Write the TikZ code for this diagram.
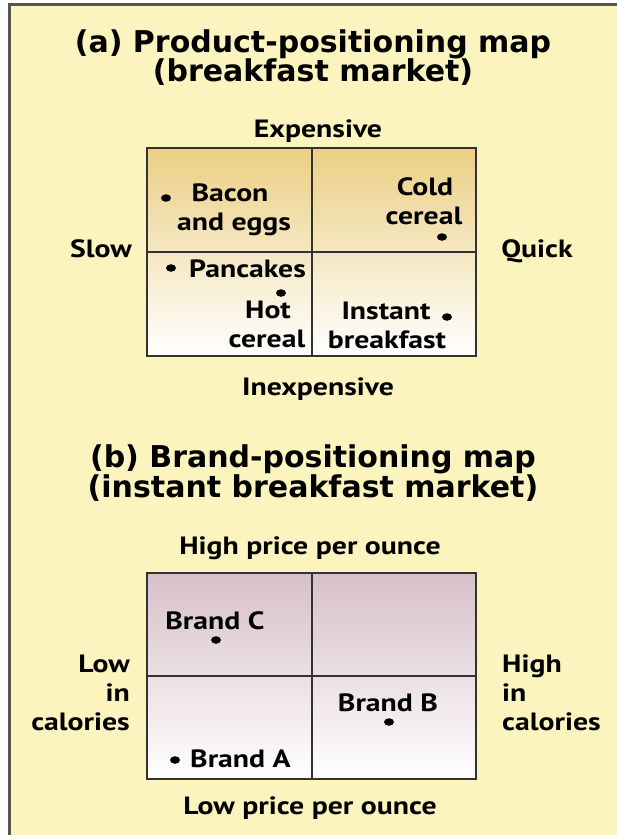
\documentclass[tikz,border=0pt]{standalone}
\usepackage{fontspec}
\usetikzlibrary{shapes.geometric}
\newfontfamily\bodyf[FakeStretch=1.19]{PT Sans}
\newfontfamily\titlef{DejaVu Sans}
\definecolor{bgyellow}{RGB}{251,244,190}
\definecolor{bordergray}{RGB}{85,85,85}
\definecolor{tanA}{RGB}{235,207,132}
\definecolor{mauveB}{RGB}{215,192,201}
\definecolor{gridgray}{RGB}{50,50,50}
\tikzset{
  lbl/.style={inner sep=0pt, anchor=base, font=\bodyf\bfseries\fontsize{25}{29}\selectfont},
  lblL/.style={lbl, anchor=base west},
  lblR/.style={lbl, anchor=base east},
  ttl/.style={inner sep=0pt, anchor=base, font=\titlef\bfseries\fontsize{30}{36}\selectfont},
  dotnode/.style={ellipse, fill=black, inner sep=0pt, minimum width=10pt, minimum height=7.5pt},
  gridline/.style={draw=gridgray, line width=1.8pt},
}
\begin{document}
\begin{tikzpicture}[x=1pt,y=-1pt]
\useasboundingbox (0,0) rectangle (617,835);
\fill[white] (0,0) rectangle (617,835);
\fill[bgyellow] (8,3) rectangle (617,835);
\draw[bordergray, line width=3pt] (9.5,835) -- (9.5,4.5) -- (617,4.5);

% ---------- (a) ----------
\node[ttl] (ta1) at (313,52) {(a) Product-positioning map};
\node[ttl] (ta2) at (313,81) {(breakfast market)};
\node[lbl] (exp) at (318,137) {Expensive};
\node[lbl] (inexp) at (318,395) {Inexpensive};
\node[lbl] (slow) at (101,257) {Slow};
\node[lbl] (quick) at (537,257) {Quick};

\shade[top color=tanA, bottom color=white] (147,148) rectangle (476,356);
\draw[gridline] (147,148) rectangle (476,356);
\draw[gridline] (312,148) -- (312,356);
\draw[gridline] (147,252) -- (476,252);

\node[dotnode] (dbacon) at (166,198) {};
\node[lbl] (bacon1) at (230,201) {Bacon};
\node[lbl] (bacon2) at (234,230) {and eggs};

\node[lbl] (cold1) at (425,195) {Cold};
\node[lbl] (cold2) at (424,224) {cereal};
\node[dotnode] (dcold) at (442,237) {};

\node[dotnode] (dpan) at (171,268) {};
\node[lblL] (pan) at (189,277) {Pancakes};

\node[dotnode] (dhot) at (281,293) {};
\node[lbl] (hot1) at (268,318) {Hot};
\node[lbl] (hot2) at (267,347) {cereal};

\node[lbl] (inst1) at (386,319) {Instant};
\node[lbl] (inst2) at (387,348) {breakfast};
\node[dotnode] (dinst) at (447,317) {};

% ---------- (b) ----------
\node[ttl] (tb1) at (313,467) {(b) Brand-positioning map};
\node[ttl] (tb2) at (313,497) {(instant breakfast market)};
\node[lbl] (hpo) at (310,554) {High price per ounce};
\node[lbl] (lpo) at (310,814) {Low price per ounce};

\node[lblR] (low1) at (130,672) {Low};
\node[lblR] (low2) at (130,701) {in};
\node[lblR] (low3) at (130,730) {calories};
\node[lblL] (high1) at (502,672) {High};
\node[lblL] (high2) at (502,701) {in};
\node[lblL] (high3) at (502,730) {calories};

\shade[top color=mauveB, bottom color=white] (147,573) rectangle (476,779);
\draw[gridline] (147,573) rectangle (476,779);
\draw[gridline] (312,573) -- (312,779);
\draw[gridline] (147,676) -- (476,676);

\node[lbl] (bc) at (215,629) {Brand C};
\node[dotnode] (dbc) at (216,640) {};
\node[lbl] (bb) at (388,711) {Brand B};
\node[dotnode] (dbb) at (389,722) {};
\node[dotnode] (dba) at (175,760) {};
\node[lblL] (ba) at (190,767) {Brand A};
\end{tikzpicture}
\end{document}
